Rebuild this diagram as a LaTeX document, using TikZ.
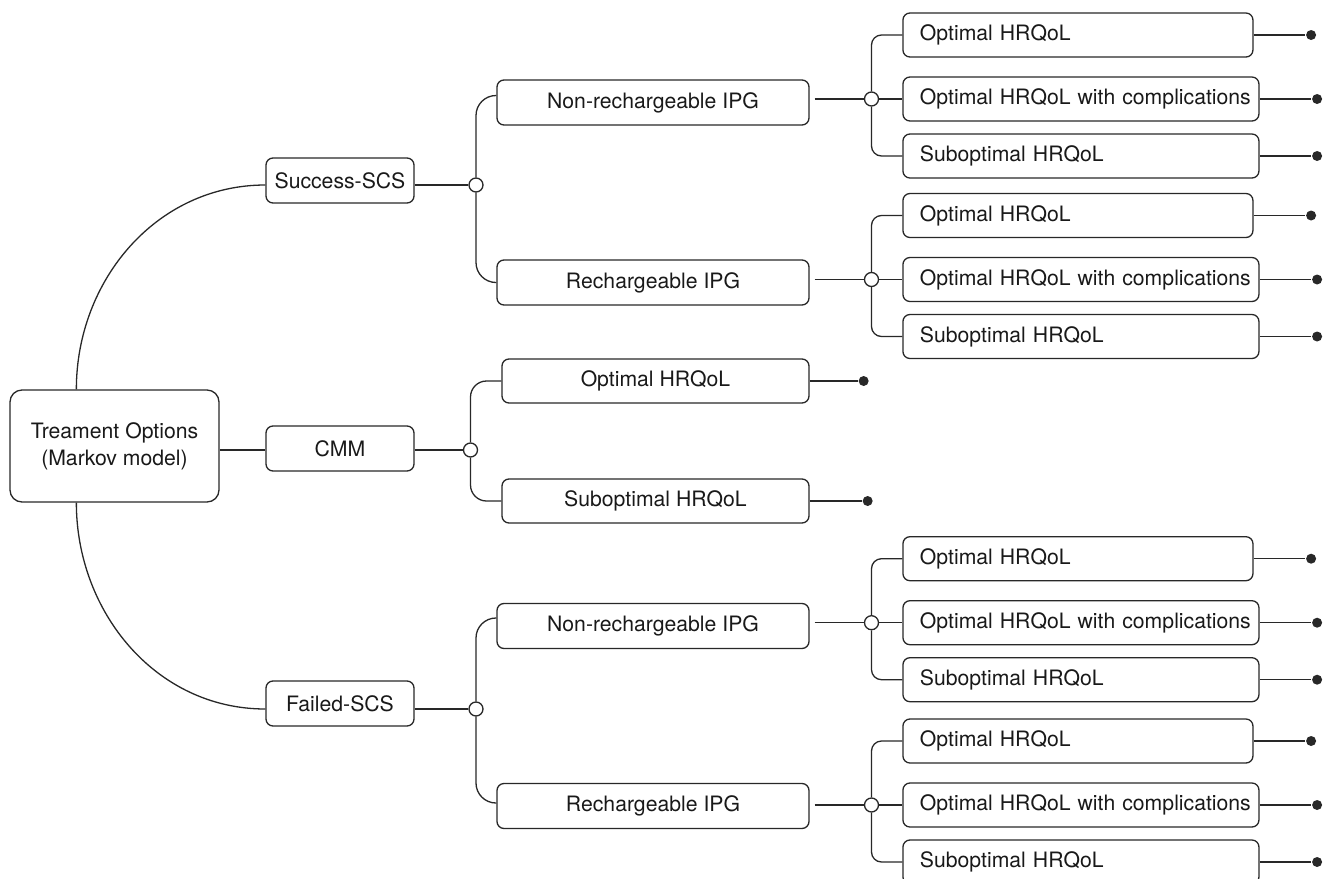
\documentclass[tikz,border=0pt]{standalone}
\usepackage{fontspec}
\setmainfont{TeX Gyre Heros}
\usetikzlibrary{positioning}
\definecolor{linecolor}{RGB}{40,40,40}
\definecolor{textcolor}{RGB}{25,25,25}

\begin{document}
\begin{tikzpicture}[x=0.5pt, y=0.5pt, line width=0.65pt, color=linecolor,
    every node/.style={font=\fontsize{10.6}{13.5}\selectfont, text=textcolor},
    rootbox/.style={draw, rounded corners=6pt, minimum width=104.5pt, minimum height=56pt, align=center},
    optbox/.style={draw, rounded corners=3.5pt, minimum width=74pt, minimum height=22.5pt},
    ipgbox/.style={draw, rounded corners=3.5pt, minimum width=156pt, minimum height=22.5pt},
    cmmleaf/.style={draw, rounded corners=3.5pt, minimum width=153.5pt, minimum height=22pt},
    leafbox/.style={draw, rounded corners=3.5pt, anchor=west, inner xsep=8.5pt, inner ysep=0pt,
      minimum height=22pt, text width=161pt, align=left},
    junction/.style={circle, draw, fill=white, inner sep=0pt, minimum size=7pt},
    endpoint/.style={circle, fill=linecolor, inner sep=0pt, minimum size=5pt}]

  \useasboundingbox (0,0) rectangle (1330,-879);

  % decision node and the three options
  \node[rootbox] (root) at (114.5,-446) {Treament Options\\(Markov model)};
  \node[optbox] (succ) at (340,-180.5) {Success-SCS};
  \node[optbox] (cmm) at (340,-448.5) {CMM};
  \node[optbox] (fail) at (340,-703.5) {Failed-SCS};

  % chance nodes
  \node[junction] (sj) at (476,-185) {};
  \node[junction] (cj) at (470.5,-450) {};
  \node[junction] (fj) at (476,-709) {};

  \node[ipgbox] (nr1) at (653,-102.5) {Non-rechargeable IPG};
  \node[ipgbox] (r1) at (653,-282.5) {Rechargeable IPG};
  \node[ipgbox] (nr2) at (653,-626) {Non-rechargeable IPG};
  \node[ipgbox] (r2) at (653,-806) {Rechargeable IPG};

  \node[cmmleaf] (copt) at (655.5,-381) {Optimal HRQoL};
  \node[cmmleaf] (csub) at (655.5,-501) {Suboptimal HRQoL};
  \node[endpoint] (ecopt) at ([xshift=27pt]copt.east) {};
  \node[endpoint] (ecsub) at ([xshift=29pt]csub.east) {};

  % branches out of the root
  \draw ([xshift=33.5pt]root.north west) to[out=90,in=180] (succ.west |- sj);
  \draw ([xshift=33.5pt]root.south west) to[out=-90,in=180] (fail.west |- fj);
  \draw (root.east |- cj) -- (cmm.west |- cj);
  \draw (succ.east |- sj) -- (sj);
  \draw (cmm.east |- cj) -- (cj);
  \draw (fail.east |- fj) -- (fj);

  \draw[rounded corners=10pt] (sj) |- ([yshift=3.5pt]nr1.west);
  \draw[rounded corners=10pt] (sj) |- (r1.west);
  \draw[rounded corners=10pt] (fj) |- ([yshift=4pt]nr2.west);
  \draw[rounded corners=10pt] (fj) |- ([yshift=1.5pt]r2.west);
  \draw[rounded corners=8pt] (cj) |- (copt.west);
  \draw[rounded corners=8pt] (cj) |- (csub.west);
  \draw (copt.east) -- (ecopt);
  \draw (csub.east) -- (ecsub);

  % HRQoL states behind each IPG
  \foreach \i/\y/\ipg in {1/99/nr1, 2/279.5/r1, 3/622.7/nr2, 4/805/r2} {
    \node[junction] (lj\i) at (871.5,-\y) {};
    \node[leafbox, text width=158pt] (opt\i) at (902.3,-\y+64) {Optimal HRQoL};
    \node[leafbox] (optc\i) at (902.3,-\y) {\mbox{Optimal HRQoL with complications}};
    \node[leafbox] (sub\i) at (902.3,-\y-57) {Suboptimal HRQoL};
    \foreach \b in {opt,optc,sub}
      \node[endpoint] (e\b\i) at ([xshift=28.75pt]\b\i.east) {};

    \draw[shorten <=2.5pt] (\ipg.east |- lj\i) -- (lj\i);
    \draw[rounded corners=5pt] (lj\i) |- (opt\i.west);
    \draw (lj\i) -- (optc\i.west);
    \draw[rounded corners=5pt] (lj\i) |- (sub\i.west);
    \foreach \b in {opt,optc,sub}
      \draw (\b\i.east) -- (e\b\i);
  }
\end{tikzpicture}
\end{document}
